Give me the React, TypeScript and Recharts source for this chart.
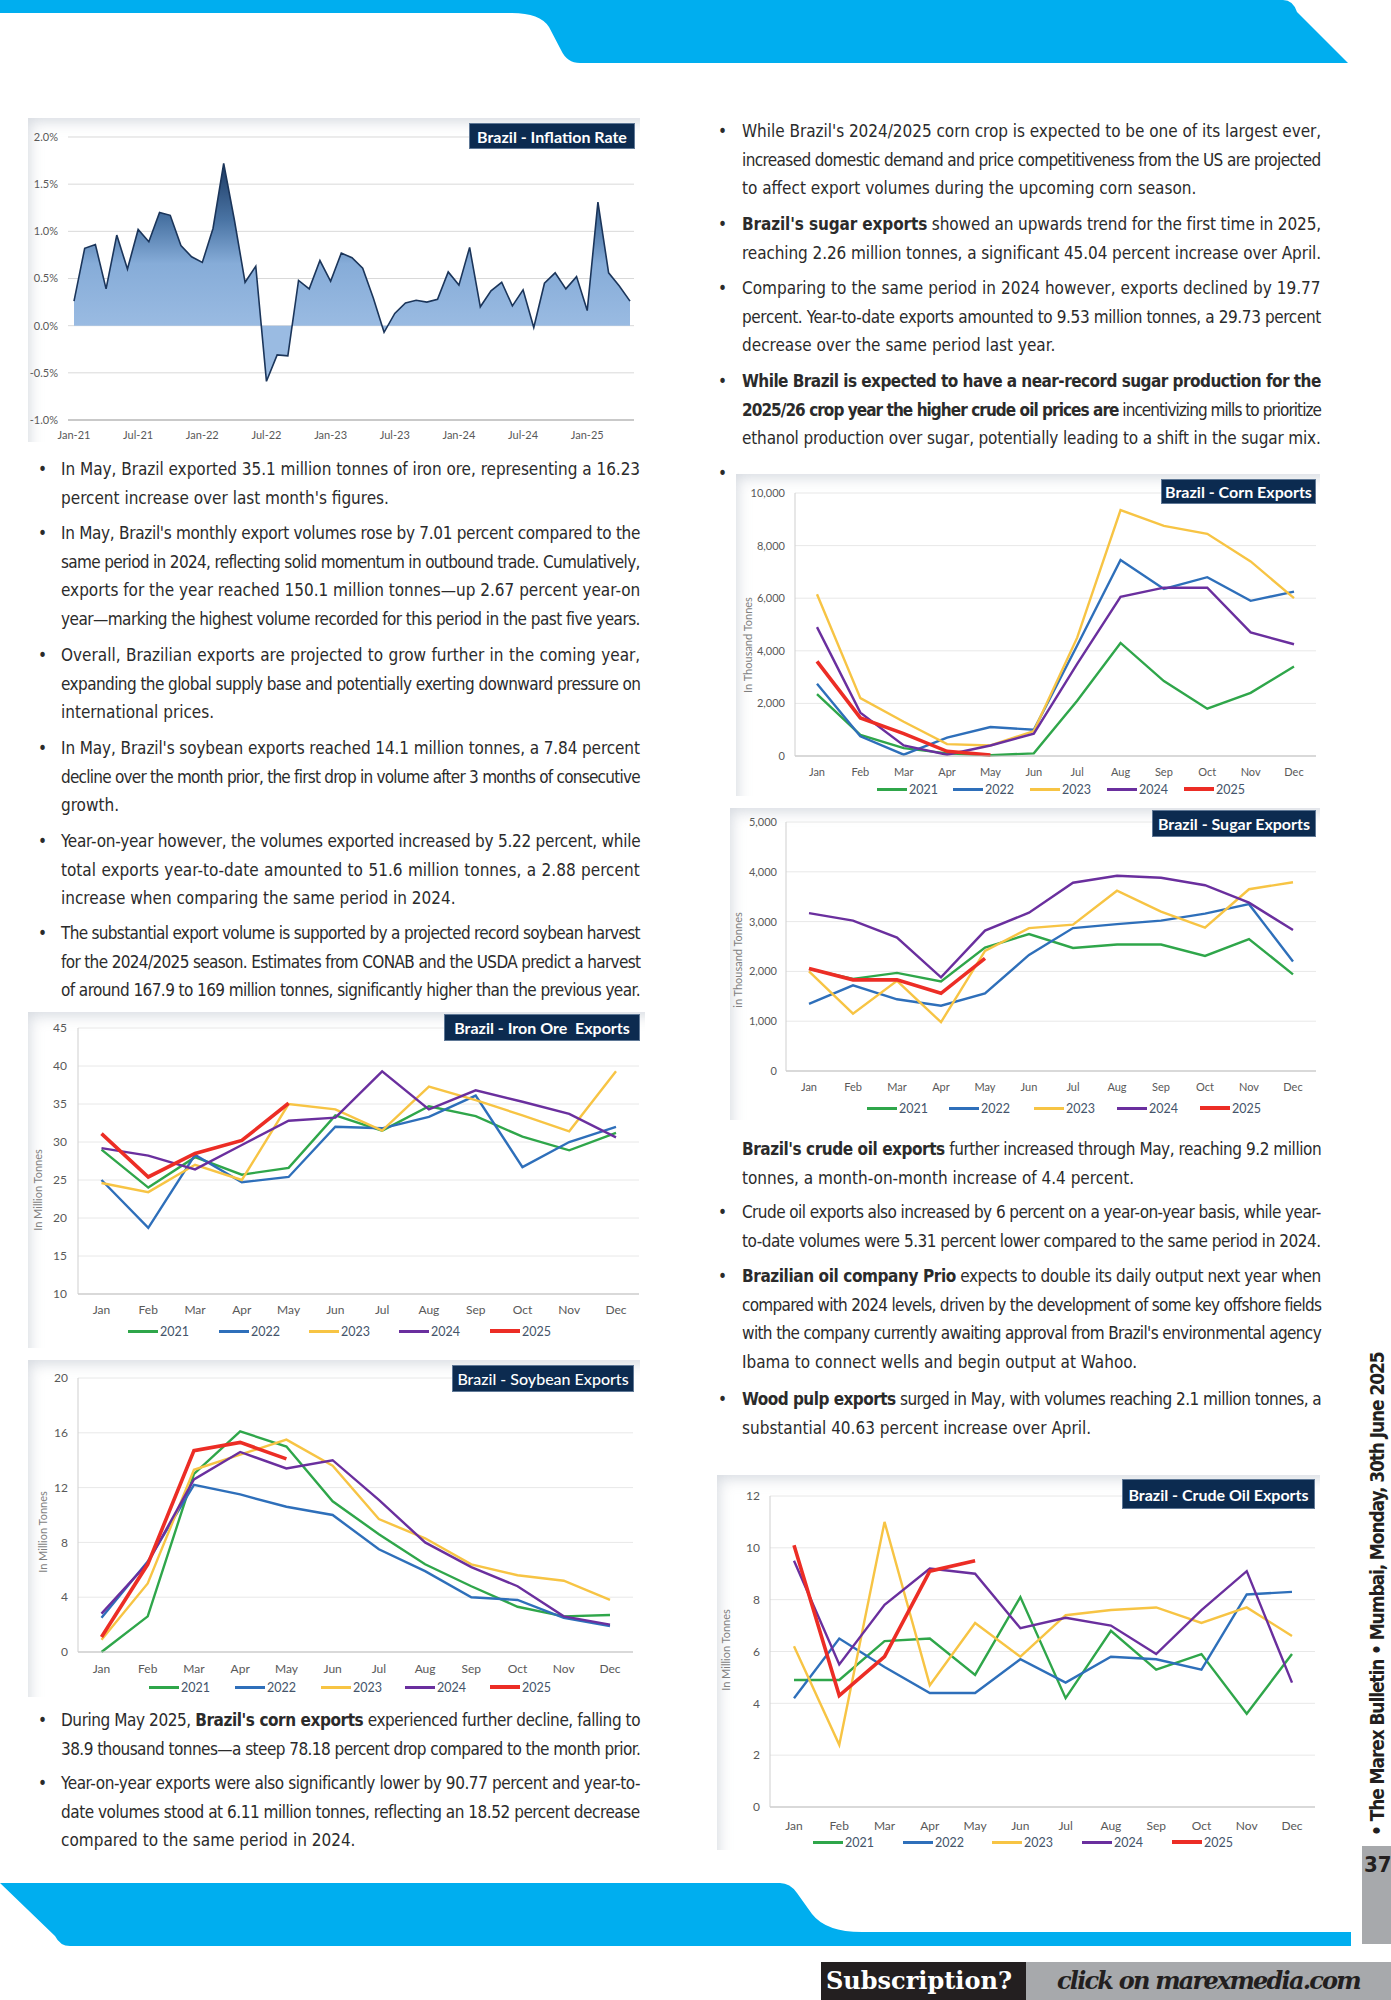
import React, { useLayoutEffect, useRef } from "react";
import { LineChart, Line, AreaChart, Area, XAxis, YAxis, CartesianGrid } from "recharts";

if (typeof document !== "undefined") document.body.style.margin = "0";

const BODY_FONT = "'Liberation Sans Narrow', 'DejaVu Sans Condensed', 'Roboto Condensed', 'Liberation Sans', sans-serif";
const CHART_FONT = "Lato, 'Open Sans', sans-serif";
const INK = "#2b2b2b";
const BLUE = "#00aeef";

// ---- data ----
const MONTHS = ["Jan", "Feb", "Mar", "Apr", "May", "Jun", "Jul", "Aug", "Sep", "Oct", "Nov", "Dec"];
const YEARS = ["2021", "2022", "2023", "2024", "2025"];
const YEAR_COLORS = ["#2fa64a", "#2e6fba", "#f7c444", "#6a2f9e", "#ec2d25"];
const YEAR_WIDTHS = [2.4, 2.4, 2.4, 2.4, 3.6];

const INFLATION_MONTHS = [
  "Jan-21", "Feb-21", "Mar-21", "Apr-21", "May-21", "Jun-21", "Jul-21", "Aug-21", "Sep-21", "Oct-21", "Nov-21", "Dec-21",
  "Jan-22", "Feb-22", "Mar-22", "Apr-22", "May-22", "Jun-22", "Jul-22", "Aug-22", "Sep-22", "Oct-22", "Nov-22", "Dec-22",
  "Jan-23", "Feb-23", "Mar-23", "Apr-23", "May-23", "Jun-23", "Jul-23", "Aug-23", "Sep-23", "Oct-23", "Nov-23", "Dec-23",
  "Jan-24", "Feb-24", "Mar-24", "Apr-24", "May-24", "Jun-24", "Jul-24", "Aug-24", "Sep-24", "Oct-24", "Nov-24", "Dec-24",
  "Jan-25", "Feb-25", "Mar-25", "Apr-25", "May-25",
];
const INFLATION = [
  0.26, 0.82, 0.86, 0.39, 0.96, 0.6, 1.02, 0.89, 1.2, 1.17, 0.85, 0.73,
  0.67, 1.03, 1.72, 1.12, 0.46, 0.63, -0.59, -0.31, -0.32, 0.48, 0.39, 0.69,
  0.47, 0.77, 0.72, 0.61, 0.29, -0.07, 0.13, 0.24, 0.27, 0.25, 0.28, 0.57,
  0.43, 0.83, 0.2, 0.37, 0.46, 0.21, 0.38, -0.02, 0.45, 0.56, 0.39, 0.52,
  0.16, 1.31, 0.56, 0.42, 0.26,
];
const INFLATION_TICKS = [-1, -0.5, 0, 0.5, 1, 1.5, 2];

const IRON_2021 = [29.0, 24.0, 28.0, 25.7, 26.6, 33.5, 31.5, 34.7, 33.4, 30.7, 28.9, 31.2];
const IRON_2022 = [25.0, 18.7, 28.3, 24.7, 25.4, 32.0, 31.8, 33.3, 36.1, 26.7, 30.0, 32.0];
const IRON_2023 = [24.6, 23.4, 27.0, 25.0, 35.0, 34.3, 31.5, 37.3, 35.5, 33.5, 31.4, 39.3];
const IRON_2024 = [29.2, 28.2, 26.4, 29.6, 32.8, 33.2, 39.3, 34.3, 36.8, 35.3, 33.7, 30.6];
const IRON_2025 = [31.1, 25.4, 28.5, 30.2, 35.1];
const IRON_TICKS = [10, 15, 20, 25, 30, 35, 40, 45];

const SOY_2021 = [0.0, 2.6, 13.0, 16.1, 15.0, 11.0, 8.6, 6.4, 4.8, 3.3, 2.6, 2.7];
const SOY_2022 = [2.5, 6.6, 12.2, 11.5, 10.6, 10.0, 7.5, 5.9, 4.0, 3.8, 2.5, 1.9];
const SOY_2023 = [0.9, 5.0, 13.3, 14.4, 15.5, 13.6, 9.7, 8.3, 6.4, 5.6, 5.2, 3.8];
const SOY_2024 = [2.8, 6.5, 12.6, 14.6, 13.4, 14.0, 11.1, 8.0, 6.2, 4.8, 2.6, 2.0];
const SOY_2025 = [1.1, 6.4, 14.7, 15.3, 14.1];
const SOY_TICKS = [0, 4, 8, 12, 16, 20];

const CORN_2021 = [2350, 800, 300, 100, 30, 100, 2100, 4300, 2850, 1800, 2400, 3400];
const CORN_2022 = [2750, 750, 50, 700, 1100, 1000, 4200, 7450, 6350, 6800, 5900, 6250];
const CORN_2023 = [6150, 2200, 1300, 450, 400, 950, 4500, 9350, 8750, 8450, 7400, 6000];
const CORN_2024 = [4900, 1650, 400, 50, 400, 850, 3500, 6050, 6400, 6400, 4700, 4250];
const CORN_2025 = [3600, 1450, 850, 178, 39];
const CORN_TICKS = [0, 2000, 4000, 6000, 8000, 10000];

const SUGAR_2021 = [2050, 1850, 1970, 1800, 2480, 2750, 2470, 2540, 2540, 2310, 2650, 1940];
const SUGAR_2022 = [1350, 1720, 1440, 1310, 1560, 2330, 2870, 2950, 3020, 3160, 3350, 2200];
const SUGAR_2023 = [2000, 1150, 1810, 980, 2410, 2870, 2940, 3620, 3200, 2880, 3650, 3790];
const SUGAR_2024 = [3170, 3020, 2680, 1880, 2820, 3180, 3780, 3920, 3880, 3730, 3380, 2830];
const SUGAR_2025 = [2060, 1830, 1830, 1560, 2260];
const SUGAR_TICKS = [0, 1000, 2000, 3000, 4000, 5000];

const CRUDE_2021 = [4.9, 4.9, 6.4, 6.5, 5.1, 8.1, 4.2, 6.8, 5.3, 5.9, 3.6, 5.9];
const CRUDE_2022 = [4.2, 6.5, 5.4, 4.4, 4.4, 5.7, 4.8, 5.8, 5.7, 5.3, 8.2, 8.3];
const CRUDE_2023 = [6.2, 2.4, 11.0, 4.7, 7.1, 5.8, 7.4, 7.6, 7.7, 7.1, 7.7, 6.6];
const CRUDE_2024 = [9.5, 5.5, 7.8, 9.2, 9.0, 6.9, 7.3, 7.0, 5.9, 7.6, 9.1, 4.8];
const CRUDE_2025 = [10.1, 4.3, 5.8, 9.1, 9.5];
const CRUDE_TICKS = [0, 2, 4, 6, 8, 10, 12];

function toRows(series: number[][]) {
  return MONTHS.map((m, i) => {
    const row: Record<string, string | number | null> = { m };
    YEARS.forEach((y, k) => (row["y" + y] = series[k][i] ?? null));
    return row;
  });
}

const INFLATION_ROWS = INFLATION_MONTHS.map((m, i) => ({ m, v: INFLATION[i] }));
const IRON_ROWS = toRows([IRON_2021, IRON_2022, IRON_2023, IRON_2024, IRON_2025]);
const SOY_ROWS = toRows([SOY_2021, SOY_2022, SOY_2023, SOY_2024, SOY_2025]);
const CORN_ROWS = toRows([CORN_2021, CORN_2022, CORN_2023, CORN_2024, CORN_2025]);
const SUGAR_ROWS = toRows([SUGAR_2021, SUGAR_2022, SUGAR_2023, SUGAR_2024, SUGAR_2025]);
const CRUDE_ROWS = toRows([CRUDE_2021, CRUDE_2022, CRUDE_2023, CRUDE_2024, CRUDE_2025]);

// ---- text ----
const LEFT_TOP = [
  ["In May, Brazil exported 35.1 million tonnes of iron ore, representing a 16.23", "percent increase over last month's figures."],
  [
    "In May, Brazil's monthly export volumes rose by 7.01 percent compared to the",
    "same period in 2024, reflecting solid momentum in outbound trade. Cumulatively,",
    "exports for the year reached 150.1 million tonnes—up 2.67 percent year-on",
    "year—marking the highest volume recorded for this period in the past five years.",
  ],
  [
    "Overall, Brazilian exports are projected to grow further in the coming year,",
    "expanding the global supply base and potentially exerting downward pressure on",
    "international prices.",
  ],
  [
    "In May, Brazil's soybean exports reached 14.1 million tonnes, a 7.84 percent",
    "decline over the month prior, the first drop in volume after 3 months of consecutive",
    "growth.",
  ],
  [
    "Year-on-year however, the volumes exported increased by 5.22 percent, while",
    "total exports year-to-date amounted to 51.6 million tonnes, a 2.88 percent",
    "increase when comparing the same period in 2024.",
  ],
  [
    "The substantial export volume is supported by a projected record soybean harvest",
    "for the 2024/2025 season. Estimates from CONAB and the USDA predict a harvest",
    "of around 167.9 to 169 million tonnes, significantly higher than the previous year.",
  ],
];
const LEFT_BOTTOM = [
  [
    "During May 2025, **Brazil's corn exports** experienced further decline, falling to",
    "38.9 thousand tonnes—a steep 78.18 percent drop compared to the month prior.",
  ],
  [
    "Year-on-year exports were also significantly lower by 90.77 percent and year-to-",
    "date volumes stood at 6.11 million tonnes, reflecting an 18.52 percent decrease",
    "compared to the same period in 2024.",
  ],
];
const RIGHT_TOP = [
  [
    "While Brazil's 2024/2025 corn crop is expected to be one of its largest ever,",
    "increased domestic demand and price competitiveness from the US are projected",
    "to affect export volumes during the upcoming corn season.",
  ],
  [
    "**Brazil's sugar exports** showed an upwards trend for the first time in 2025,",
    "reaching 2.26 million tonnes, a significant 45.04 percent increase over April.",
  ],
  [
    "Comparing to the same period in 2024 however, exports declined by 19.77",
    "percent. Year-to-date exports amounted to 9.53 million tonnes, a 29.73 percent",
    "decrease over the same period last year.",
  ],
  [
    "**While Brazil is expected to have a near-record sugar production for the**",
    "**2025/26 crop year the higher crude oil prices are** incentivizing mills to prioritize",
    "ethanol production over sugar, potentially leading to a shift in the sugar mix.",
  ],
  [""],
];
const RIGHT_MID = [
  [
    "**Brazil's crude oil exports** further increased through May, reaching 9.2 million",
    "tonnes, a month-on-month increase of 4.4 percent.",
  ],
  [
    "Crude oil exports also increased by 6 percent on a year-on-year basis, while year-",
    "to-date volumes were 5.31 percent lower compared to the same period in 2024.",
  ],
  [
    "**Brazilian oil company Prio** expects to double its daily output next year when",
    "compared with 2024 levels, driven by the development of some key offshore fields",
    "with the company currently awaiting approval from Brazil's environmental agency",
    "Ibama to connect wells and begin output at Wahoo.",
  ],
  [
    "**Wood pulp exports** surged in May, with volumes reaching 2.1 million tonnes, a",
    "substantial 40.63 percent increase over April.",
  ],
];

// ---- helpers ----
// sets one line to an exact width: word spacing for justified lines, letter spacing when too long
function FitLine({ text, left, top, width, justify, spread = "word", style }: {
  text: string; left: number; top: number; width: number; justify: boolean; spread?: "word" | "letter";
  style?: React.CSSProperties;
}) {
  const ref = useRef<HTMLDivElement>(null);
  const parts = text.split("**");
  const plain = parts.join("");
  useLayoutEffect(() => {
    const el = ref.current;
    if (!el) return;
    el.style.wordSpacing = "0px";
    el.style.letterSpacing = "0px";
    const nat = el.offsetWidth; // layout width, not affected by rotation
    const spaces = (plain.match(/ /g) || []).length;
    if (nat > width || (justify && spread === "letter")) el.style.letterSpacing = `${(width - nat) / plain.length}px`;
    else if (justify && spaces > 0) el.style.wordSpacing = `${(width - nat) / spaces}px`;
  }, [text, width, justify, spread]);
  return (
    <div ref={ref} style={{ position: "absolute", left, top, whiteSpace: "nowrap", ...style }}>
      {parts.map((s, i) => (i % 2 ? <b key={i}>{s}</b> : <span key={i}>{s}</span>))}
    </div>
  );
}

function TextBlock({ paras, ys, x, w, bulletX, noBullet = [] }: {
  paras: string[][]; ys: number[]; x: number; w: number; bulletX: number; noBullet?: number[];
}) {
  const step = 28.6;
  const st: React.CSSProperties = { fontFamily: BODY_FONT, fontSize: 17, lineHeight: "28px", color: INK };
  return (
    <>
      {paras.map((lines, p) => (
        <React.Fragment key={p}>
          {!noBullet.includes(p) && (
            <div style={{ position: "absolute", left: bulletX, top: ys[p] - 14, ...st }}>•</div>
          )}
          {lines.map((ln, i) => (
            <FitLine key={i} text={ln} left={x} top={ys[p] + i * step - 14} width={w} justify={i < lines.length - 1} style={st} />
          ))}
        </React.Fragment>
      ))}
    </>
  );
}

type Box = { l: number; t: number; w: number; h: number };
type Plot = { L: number; R: number; T: number; B: number };

const FRAME_SHADOW = "inset 10px 12px 14px -8px rgba(140,152,170,0.35)";

function TitleTag({ box, text, rel, weight = 700 }: { box: Box; text: string; rel: Box; weight?: number }) {
  return (
    <div style={{
      position: "absolute", left: box.l - rel.l, top: box.t - rel.t, width: box.w, height: box.h,
      background: "#0c2b50", color: "#fff", fontFamily: CHART_FONT, fontWeight: weight, fontSize: 16,
      display: "flex", alignItems: "center", justifyContent: "center", whiteSpace: "pre", boxSizing: "border-box",
      border: "1px solid #5f7896",
    }}>{text}</div>
  );
}

function YearChart(p: {
  box: Box; plot: Plot; pad: [number, number]; tickRight: number; labelY: number; ticks: number[];
  fmt?: (v: number) => string; rows: Record<string, string | number | null>[]; title: string; titleBox: Box;
  titleWeight?: number; yTitle: string; yTitlePos: [number, number]; legendY: number; legendX: number[]; tickSize?: number;
}) {
  const { box, plot } = p;
  const fs = p.tickSize ?? 12;
  const tickStyle = { fontSize: fs, fill: "#595959", fontFamily: CHART_FONT };
  return (
    <div style={{ position: "absolute", left: box.l, top: box.t, width: box.w, height: box.h, overflow: "hidden", background: "#fff", boxShadow: FRAME_SHADOW }}>
      <LineChart width={box.w} height={box.h} data={p.rows}
        margin={{ top: plot.T - box.t, right: box.l + box.w - plot.R, left: 0, bottom: 0 }}>
        <CartesianGrid vertical={false} stroke="#e8e8e8" />
        <XAxis dataKey="m" interval={0} padding={{ left: p.pad[0], right: p.pad[1] }} height={box.t + box.h - plot.B}
          tickLine={false} tickSize={0} tickMargin={p.labelY - plot.B - 4} axisLine={{ stroke: "#bfbfbf" }} tick={tickStyle} />
        <YAxis width={plot.L - box.l} type="number" domain={[p.ticks[0], p.ticks[p.ticks.length - 1]]} ticks={p.ticks}
          tickFormatter={p.fmt} tickLine={false} tickSize={0} tickMargin={plot.L - p.tickRight} axisLine={{ stroke: "#cfcfcf" }} tick={tickStyle} />
        {YEARS.map((y, k) => (
          <Line key={y} type="linear" dataKey={"y" + y} stroke={YEAR_COLORS[k]} strokeWidth={YEAR_WIDTHS[k]}
            dot={false} isAnimationActive={false} connectNulls={false} />
        ))}
      </LineChart>
      <TitleTag box={p.titleBox} text={p.title} rel={box} weight={p.titleWeight} />
      <div style={{
        position: "absolute", left: p.yTitlePos[0] - box.l - 100, top: p.yTitlePos[1] - box.t - 7, width: 200, height: 14,
        textAlign: "center", fontFamily: CHART_FONT, fontSize: 11, lineHeight: "14px", color: "#7f7f7f", transform: "rotate(-90deg)",
      }}>{p.yTitle}</div>
      {YEARS.map((y, k) => (
        <div key={y} style={{
          position: "absolute", left: p.legendX[k] - box.l, top: p.legendY - box.t - 8, height: 16,
          display: "flex", alignItems: "center", fontFamily: CHART_FONT, fontSize: 12.5, color: "#44546a",
        }}>
          <span style={{ display: "inline-block", width: 30, height: YEAR_WIDTHS[k] + 0.6, background: YEAR_COLORS[k], marginRight: 2 }} />
          <span>{y}</span>
        </div>
      ))}
    </div>
  );
}

function InflationChart() {
  const box: Box = { l: 28, t: 118, w: 612, h: 324 };
  const plot: Plot = { L: 68, R: 634, T: 137, B: 420 };
  return (
    <div style={{ position: "absolute", left: box.l, top: box.t, width: box.w, height: box.h, overflow: "hidden", background: "#fff", boxShadow: FRAME_SHADOW }}>
      <AreaChart width={box.w} height={box.h} data={INFLATION_ROWS}
        margin={{ top: plot.T - box.t, right: box.l + box.w - plot.R, left: 0, bottom: 0 }}>
        <defs>
          <linearGradient id="infFill" x1="0" y1="0" x2="0" y2="1">
            <stop offset="0%" stopColor="#1d3a63" />
            <stop offset="26%" stopColor="#4a74a4" />
            <stop offset="46%" stopColor="#86acd8" />
            <stop offset="75%" stopColor="#9abbe2" />
            <stop offset="100%" stopColor="#9abbe2" />
          </linearGradient>
        </defs>
        <CartesianGrid vertical={false} stroke="#d9d9d9" />
        <XAxis dataKey="m" interval={5} padding={{ left: 6, right: 4 }} height={box.t + box.h - plot.B}
          tickLine={false} tickSize={0} tickMargin={11} axisLine={{ stroke: "#a6a6a6" }}
          tick={{ fontSize: 11, fill: "#595959", fontFamily: CHART_FONT }} />
        <YAxis width={plot.L - box.l} type="number" domain={[-1, 2]} ticks={INFLATION_TICKS}
          tickFormatter={(v: number) => v.toFixed(1) + "%"} axisLine={false} tickLine={false} tickSize={0} tickMargin={10}
          tick={{ fontSize: 11, fill: "#595959", fontFamily: CHART_FONT }} />
        <Area type="linear" dataKey="v" baseValue={0} stroke="#1b355a" strokeWidth={1.6} fill="url(#infFill)" fillOpacity={1}
          isAnimationActive={false} />
      </AreaChart>
      <TitleTag box={{ l: 469, t: 123, w: 166, h: 26 }} text="Brazil - Inflation Rate" rel={box} />
    </div>
  );
}

function Furniture() {
  return (
    <svg width={1391} height={2000} style={{ position: "absolute", left: 0, top: 0 }}>
      <path d="M0 0 H1283 Q1293 0 1297 12 L1348 63 H580 Q567 63 561 50 L549 27 Q540 13 512 13 H0 Z" fill={BLUE} />
      <path d="M0 1883 H780 Q790 1883 797 1893 L812 1914 Q826 1932 862 1932 H1351 V1946 H70 Q60 1946 55 1936 Z" fill={BLUE} />
      <rect x={1362} y={1846} width={29} height={98} fill="#a7a9ac" />
      <rect x={821} y={1962} width={205} height={38} fill="#231f20" />
      <rect x={1026} y={1962} width={365} height={38} fill="#a7a9ac" />
    </svg>
  );
}

export default function App() {
  const thousands = (v: number) => v.toLocaleString("en-US");
  return (
    <div style={{ position: "relative", width: 1391, height: 2000, overflow: "hidden", background: "#fff" }}>
      <Furniture />
      <InflationChart />
      <YearChart box={{ l: 28, t: 1012, w: 617, h: 336 }} plot={{ L: 78, R: 639, T: 1028, B: 1294 }} pad={[23.5, 23]}
        tickRight={67} labelY={1309} ticks={IRON_TICKS} rows={IRON_ROWS} title={"Brazil - Iron Ore  Exports"}
        titleBox={{ l: 444, t: 1014, w: 196, h: 27 }} yTitle="In Million Tonnes" yTitlePos={[38, 1190]}
        legendY={1331} legendX={[128, 219, 309, 399, 490]} />
      <YearChart box={{ l: 28, t: 1360, w: 612, h: 337 }} plot={{ L: 78, R: 633, T: 1378, B: 1652 }} pad={[23.5, 23]}
        tickRight={68} labelY={1668} ticks={SOY_TICKS} rows={SOY_ROWS} title="Brazil - Soybean Exports" titleWeight={500}
        titleBox={{ l: 452, t: 1365, w: 182, h: 27 }} yTitle="In Million Tonnes" yTitlePos={[43, 1532]}
        legendY={1687} legendX={[149, 235, 321, 405, 490]} />
      <YearChart box={{ l: 736, t: 474, w: 584, h: 322 }} plot={{ L: 795, R: 1316, T: 493, B: 756 }} pad={[22, 22]}
        tickRight={785} labelY={772} ticks={CORN_TICKS} fmt={thousands} rows={CORN_ROWS} title="Brazil - Corn Exports"
        titleBox={{ l: 1161, t: 479, w: 155, h: 25 }} yTitle="In Thousand Tonnes" yTitlePos={[748, 645]}
        legendY={789} legendX={[877, 953, 1030, 1107, 1184]} tickSize={11} />
      <YearChart box={{ l: 730, t: 808, w: 590, h: 312 }} plot={{ L: 786, R: 1316, T: 822, B: 1071 }} pad={[23, 23]}
        tickRight={777} labelY={1087} ticks={SUGAR_TICKS} fmt={thousands} rows={SUGAR_ROWS} title="Brazil - Sugar Exports"
        titleBox={{ l: 1152, t: 810, w: 164, h: 27 }} yTitle="in Thousand Tonnes" yTitlePos={[738, 960]}
        legendY={1108} legendX={[867, 949, 1034, 1117, 1200]} tickSize={11} />
      <YearChart box={{ l: 717, t: 1475, w: 603, h: 375 }} plot={{ L: 770, R: 1315, T: 1496, B: 1807 }} pad={[24, 23]}
        tickRight={760} labelY={1825} ticks={CRUDE_TICKS} rows={CRUDE_ROWS} title="Brazil - Crude Oil Exports"
        titleBox={{ l: 1122, t: 1479, w: 193, h: 30 }} yTitle="In Million Tonnes" yTitlePos={[726, 1650]}
        legendY={1842} legendX={[813, 903, 992, 1082, 1172]} />

      <TextBlock paras={LEFT_TOP} ys={[469, 533, 655, 748, 841, 933]} x={61} w={579} bulletX={38} />
      <TextBlock paras={LEFT_BOTTOM} ys={[1720, 1783]} x={61} w={579} bulletX={38} />
      <TextBlock paras={RIGHT_TOP} ys={[131, 224, 288, 381, 473]} x={742} w={579} bulletX={718} />
      <TextBlock paras={RIGHT_MID} ys={[1149, 1212, 1276, 1399]} x={742} w={579} bulletX={718} noBullet={[0]} />

      <div style={{ position: "absolute", left: 1377, top: 1836, transform: "rotate(-90deg)", transformOrigin: "0 0" }}>
        <FitLine text="• The Marex Bulletin • Mumbai, Monday, 30th June 2025" left={0} top={-12} width={484} justify spread="letter"
          style={{ fontFamily: BODY_FONT, fontWeight: 700, fontSize: 19, lineHeight: "24px", color: "#231f20" }} />
      </div>
      <div style={{ position: "absolute", left: 1364, top: 1852, fontFamily: BODY_FONT, fontWeight: 700, fontSize: 22, lineHeight: "26px", color: "#231f20" }}>37</div>
      <FitLine text="Subscription?" left={826} top={1964} width={196} justify={false}
        style={{ fontFamily: "'DejaVu Serif', 'Liberation Serif', serif", fontWeight: 700, fontSize: 24, lineHeight: "34px", letterSpacing: 2, color: "#fff" }} />
      <FitLine text="click on marexmedia.com" left={1057} top={1964} width={303} justify
        style={{ fontFamily: "'DejaVu Serif', 'Liberation Serif', serif", fontWeight: 700, fontStyle: "italic", fontSize: 24, lineHeight: "34px", color: "#231f20" }} />
    </div>
  );
}
